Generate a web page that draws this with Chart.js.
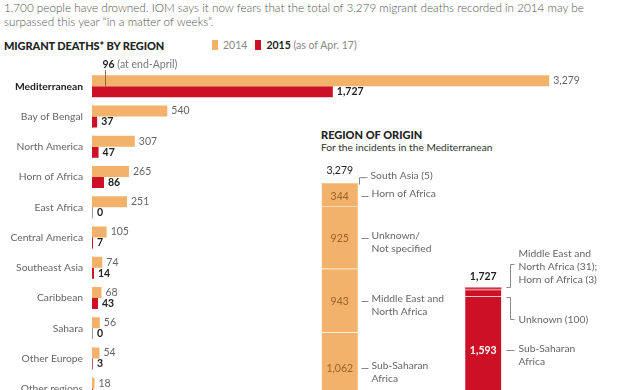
<!DOCTYPE html>
<html>
<head>
<meta charset="utf-8">
<script src="https://cdn.jsdelivr.net/npm/chart.js@4.4.1/dist/chart.umd.min.js"></script>
<style>
  html, body { margin: 0; padding: 0; width: 617px; height: 390px; overflow: hidden; background: #fff; }
  body { position: relative; font-family: Lato, "Noto Sans", sans-serif; color: #333; }
  #intro { position: absolute; left: 4px; top: 0px; font-size: 11.7px; line-height: 14px; color: #555; font-weight: 300; white-space: nowrap; }
  #title { position: absolute; left: 4px; top: 39px; font-size: 11px; font-weight: 900; color: #222; letter-spacing: -0.1px; }
  #legend { position: absolute; left: 212px; top: 39px; font-size: 10.5px; color: #888; white-space: nowrap; }
  #legend .sw { display: inline-block; width: 6px; height: 10px; vertical-align: -1px; margin-right: 5px; }
  #legend .gap { display: inline-block; width: 8px; }
  #legend b { color: #222; }
  #origin-title { position: absolute; left: 321px; top: 128px; font-size: 11px; font-weight: 900; color: #222; }
  #origin-sub { position: absolute; left: 321px; top: 141px; font-size: 10.2px; color: #333; }
  canvas { position: absolute; }
  #regionChart { left: 0; top: 56px; }
  #originChart { left: 250px; top: 158px; }
</style>
</head>
<body>
<div id="intro">1,700 people have drowned. IOM says it now fears that the total of 3,279 migrant deaths recorded in 2014 may be<br>surpassed this year “in a matter of weeks”.</div>
<div id="title">MIGRANT DEATHS* BY REGION</div>
<div id="legend"><span class="sw" style="background:#F3B26B"></span>2014<span class="gap"></span><span class="sw" style="background:#CC1126"></span><b>2015</b> (as of Apr. 17)</div>
<div id="origin-title">REGION OF ORIGIN</div>
<div id="origin-sub">For the incidents in the Mediterranean</div>
<canvas id="regionChart" width="617" height="363"></canvas>
<canvas id="originChart" width="367" height="252"></canvas>
<script>
// --- dados: mortes por região ---
const regions = ['Mediterranean', 'Bay of Bengal', 'North America', 'Horn of Africa', 'East Africa',
  'Central America', 'Southeast Asia', 'Caribbean', 'Sahara', 'Other Europe', 'Other regions'];
const deaths2014 = [3279, 540, 307, 265, 251, 105, 74, 68, 56, 54, 18];
const deaths2015 = [1727, 37, 47, 86, 0, 7, 14, 43, 0, 3, 8];
const medEndApril2014 = 96;

// --- dados: região de origem (Mediterrâneo), de baixo para cima ---
const origin2014Names = [['Sub-Saharan', 'Africa'], ['Middle East and', 'North Africa'], ['Unknown/', 'Not specified'], ['Horn of Africa'], ['South Asia (5)']];
const origin2014 = [1062, 943, 925, 344, 5];
const origin2015Names = [['Sub-Saharan', 'Africa'], ['Unknown (100)'], ['Middle East and', 'North Africa (31);', 'Horn of Africa (3)'], []];
const origin2015 = [1593, 100, 31, 3];

const ORANGE = '#F3B26B';
const RED = '#CC1126';
const FONT = 'Lato, "Noto Sans", sans-serif';
const fmt = v => v.toLocaleString('en-US');

// --- rótulos do gráfico de regiões ---
const regionLabels = {
  id: 'regionLabels',
  beforeDatasetsDraw(chart) {
    const { ctx, scales: { x } } = chart;
    const zero = Math.round(x.getPixelForValue(0)) + 0.5;
    const m0 = chart.getDatasetMeta(0).data, m1 = chart.getDatasetMeta(1).data;
    ctx.save();
    ctx.strokeStyle = '#999';
    ctx.lineWidth = 1;
    m0.forEach((bar, i) => {
      ctx.beginPath();
      ctx.moveTo(zero, bar.y - bar.height / 2);
      ctx.lineTo(zero, m1[i].y + m1[i].height / 2);
      ctx.stroke();
    });
    ctx.restore();
  },
  afterDatasetsDraw(chart) {
    const { ctx, chartArea, scales: { x } } = chart;
    const zero = x.getPixelForValue(0);
    const m0 = chart.getDatasetMeta(0).data, m1 = chart.getDatasetMeta(1).data;
    ctx.save();
    ctx.textBaseline = 'middle';
    ctx.textAlign = 'left';
    m0.forEach((bar, i) => {
      ctx.font = `10.5px ${FONT}`;
      ctx.fillStyle = '#666';
      ctx.fillText(fmt(deaths2014[i]), bar.x + 4, bar.y);
      const b2 = m1[i];
      ctx.font = `bold 10.5px ${FONT}`;
      ctx.fillStyle = '#222';
      ctx.fillText(fmt(deaths2015[i]), Math.max(b2.x, zero + 1) + 4, b2.y);
    });
    // marca "96 (at end-April)"
    const xm = Math.round(x.getPixelForValue(medEndApril2014)) + 0.5;
    const first = m0[0];
    ctx.strokeStyle = '#8a6a40';
    ctx.beginPath();
    ctx.moveTo(xm, chartArea.top - 1);
    ctx.lineTo(xm, first.y + first.height / 2);
    ctx.stroke();
    ctx.font = `bold 10.5px ${FONT}`;
    ctx.fillStyle = '#222';
    const t = String(medEndApril2014);
    ctx.fillText(t, xm - 3, chartArea.top - 7);
    const w = ctx.measureText(t).width;
    ctx.font = `10.5px ${FONT}`;
    ctx.fillStyle = '#777';
    ctx.fillText(' (at end-April)', xm - 3 + w, chartArea.top - 7);
    ctx.restore();
  }
};

new Chart(document.getElementById('regionChart'), {
  type: 'bar',
  data: {
    labels: regions,
    datasets: [
      { label: '2014', data: deaths2014, backgroundColor: ORANGE },
      { label: '2015 (as of Apr. 17)', data: deaths2015, backgroundColor: RED }
    ]
  },
  options: {
    indexAxis: 'y',
    responsive: false,
    animation: false,
    categoryPercentage: 0.73,
    barPercentage: 1.0,
    layout: { padding: { top: 15, right: 37, bottom: 6, left: 0 } },
    plugins: { legend: { display: false }, tooltip: { enabled: false } },
    scales: {
      x: { display: false, min: 0, max: 3500 },
      y: {
        grid: { display: false, drawTicks: false },
        border: { display: false },
        afterFit: s => { s.width = 92; },
        ticks: {
          padding: 9,
          color: c => c.index === 0 ? '#222' : '#666',
          font: c => ({ family: FONT, size: 10.3, weight: c.index === 0 ? 'bold' : 'normal' })
        }
      }
    }
  },
  plugins: [regionLabels]
});

// --- rótulos do gráfico de origem ---
const originNotes = {
  id: 'originNotes',
  afterDatasetsDraw(chart) {
    const { ctx, scales: { x, y } } = chart;
    const half = 18;
    ctx.save();
    ctx.textBaseline = 'middle';
    ctx.lineWidth = 1;
    ctx.strokeStyle = '#888';

    const line = pts => {
      ctx.beginPath();
      pts.forEach(([px, py], k) => k ? ctx.lineTo(px, py) : ctx.moveTo(px, py));
      ctx.stroke();
    };
    const note = (lines, tx, ty) => {
      ctx.font = `10.3px ${FONT}`;
      ctx.fillStyle = '#666';
      ctx.textAlign = 'left';
      lines.forEach((s, k) => ctx.fillText(s, tx, ty + k * 13));
    };

    // 2014
    const c14 = x.getPixelForValue(0), r14 = Math.round(c14 + half) + 0.5;
    let cum = 0;
    origin2014.forEach((v, i) => {
      const mid = Math.round(y.getPixelForValue(cum + v / 2)) + 0.5;
      const top = y.getPixelForValue(cum + v);
      if (i === origin2014.length - 1) {
        line([[r14 + 1, top + 1], [r14 + 1, top - 6], [r14 + 9, top - 6]]);
        note(origin2014Names[i], r14 + 12, top - 8);
      } else {
        line([[r14 + 3, mid], [r14 + 10, mid]]);
        note(origin2014Names[i], r14 + 13, mid - 3);
        ctx.font = `10.5px ${FONT}`;
        ctx.fillStyle = '#9a6228';
        ctx.textAlign = 'center';
        ctx.fillText(fmt(v), c14, mid);
      }
      cum += v;
    });
    const total14 = origin2014.reduce((a, b) => a + b, 0);
    ctx.font = `10.5px ${FONT}`;
    ctx.fillStyle = '#222';
    ctx.textAlign = 'center';
    ctx.fillText(fmt(total14), c14, y.getPixelForValue(total14) - 13);

    // 2015
    const c15 = x.getPixelForValue(1), r15 = Math.round(c15 + half) + 0.5;
    const total15 = origin2015.reduce((a, b) => a + b, 0);
    const topTotal = y.getPixelForValue(total15);
    ctx.font = `bold 10.5px ${FONT}`;
    ctx.fillStyle = '#222';
    ctx.textAlign = 'center';
    ctx.fillText(fmt(total15), c15, topTotal - 11);

    const midSS = y.getPixelForValue(origin2015[0] / 2);
    ctx.font = `bold 10.5px ${FONT}`;
    ctx.fillStyle = '#fff';
    ctx.fillText(fmt(origin2015[0]), c15, midSS);
    line([[r15 + 5, Math.round(midSS) + 0.5], [r15 + 13, Math.round(midSS) + 0.5]]);
    note(origin2015Names[0], r15 + 17, midSS - 2);

    // desconhecido (100)
    const bx = r15 + 9;
    const unkTop = Math.round(y.getPixelForValue(origin2015[0])) + 0.5;
    line([[bx - 4, unkTop], [bx, unkTop], [bx, unkTop + 22], [bx + 4, unkTop + 22]]);
    note(origin2015Names[1], bx + 8, unkTop + 22);

    // Oriente Médio + Chifre da África
    const grpTop = Math.round(topTotal) - 0.5;
    line([[bx - 4, grpTop], [bx, grpTop], [bx, grpTop - 23], [bx + 4, grpTop - 23]]);
    note(origin2015Names[2], bx + 8, grpTop - 34);
    ctx.restore();
  }
};

const SEP = 'rgba(255,255,255,0.85)';
const originSets = [
  ...origin2014.map((v, i) => ({
    label: origin2014Names[i].join(' '), data: [v, null], backgroundColor: ORANGE,
    borderColor: SEP, borderSkipped: false,
    borderWidth: { top: 0, left: 0, right: 0, bottom: i === origin2014.length - 1 ? 0 : 1 }
  })),
  ...origin2015.map((v, i) => ({
    label: origin2015Names[i].join(' '), data: [null, v], backgroundColor: RED,
    borderColor: SEP, borderSkipped: false,
    borderWidth: { top: 0, left: 0, right: 0, bottom: i === 3 ? 0 : 1 }
  }))
];

new Chart(document.getElementById('originChart'), {
  type: 'bar',
  data: { labels: ['2014', '2015'], datasets: originSets },
  options: {
    responsive: false,
    animation: false,
    barThickness: 36,
    layout: { padding: { top: 17.5, right: 62, bottom: 6, left: 18 } },
    plugins: { legend: { display: false }, tooltip: { enabled: false } },
    scales: {
      x: { display: false, stacked: true },
      y: { display: false, stacked: true, min: 0, max: 3400 }
    }
  },
  plugins: [originNotes]
});
</script>
</body>
</html>
